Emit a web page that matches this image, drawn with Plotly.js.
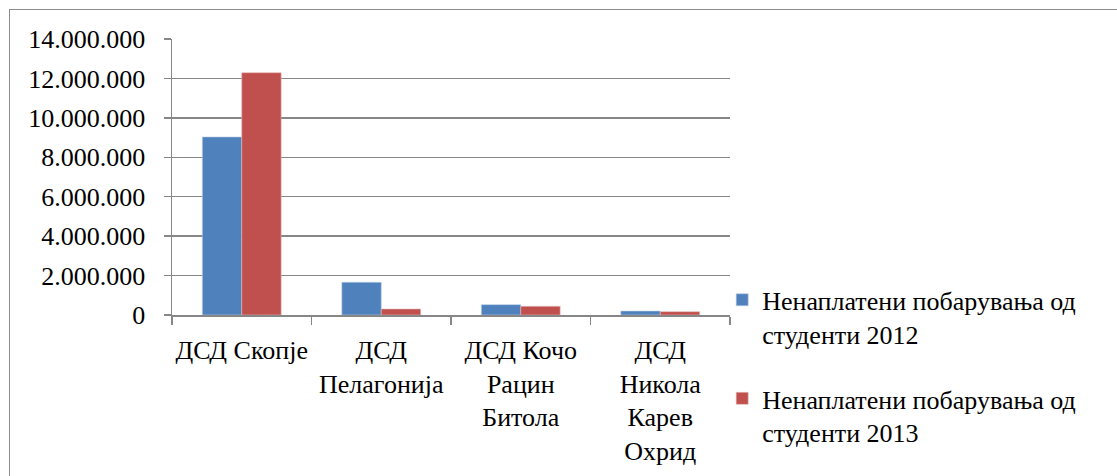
<!DOCTYPE html>
<html>
<head>
<meta charset="utf-8">
<script src="https://cdn.plot.ly/plotly-3.0.1.min.js"></script>
<style>
  html, body { margin: 0; padding: 0; background: #fff; }
  #wrap { position: relative; width: 1117px; height: 476px; overflow: hidden; }
  #chart { position: absolute; left: 0; top: 0; width: 1117px; height: 476px; }
  #frame { position: absolute; left: 9px; top: 9px; width: 1200px; height: 600px;
           border-left: 1.5px solid #8c8c8c; border-top: 1.5px solid #8c8c8c; pointer-events: none; }
</style>
</head>
<body>
<div id="wrap">
  <div id="chart"></div>
  <div id="frame"></div>
</div>
<script>
const categories = [
  "ДСД Скопје",
  "ДСД<br>Пелагонија",
  "ДСД Кочо<br>Рацин<br>Битола",
  "ДСД<br>Никола<br>Карев<br>Охрид"
];
const values2012 = [9030000, 1660000, 525000, 200000];
const values2013 = [12290000, 305000, 440000, 170000];
const seriesNames = [
  "Ненаплатени побарувања од<br>студенти 2012",
  "Ненаплатени побарувања од<br>студенти 2013"
];
const yTicks = [0, 2000000, 4000000, 6000000, 8000000, 10000000, 12000000, 14000000];

const FONT = "Liberation Serif, Times New Roman, serif";
const FS = 26;
const GRID = "#878787";

const traces = [
  { type: "bar", x: categories, y: values2012, name: seriesNames[0], legendgroup: "a",
    marker: { color: "#4F81BD", line: { color: "#b9cde5", width: 0.6 } } },
  { type: "bar", x: categories, y: values2013, name: seriesNames[1], legendgroup: "b",
    marker: { color: "#C0504D", line: { color: "#e6b9b8", width: 0.6 } } }
];

const layout = {
  width: 1117, height: 476,
  margin: { l: 172, r: 387, t: 39, b: 161 },
  paper_bgcolor: "rgba(0,0,0,0)",
  plot_bgcolor: "#fff",
  separators: ",.",
  barmode: "group",
  bargap: 0.435,
  bargroupgap: 0,
  font: { family: FONT, size: FS, color: "#000" },
  showlegend: true,
  legend: {
    x: 0.986, xanchor: "left", y: 0.14, yanchor: "top",
    valign: "top", tracegroupgap: 28,
    font: { family: FONT, size: FS, color: "#000" },
    bgcolor: "rgba(0,0,0,0)"
  },
  xaxis: {
    type: "category",
    showline: true, linecolor: GRID, linewidth: 1.5,
    ticks: "outside", tickson: "boundaries", ticklen: 8, tickcolor: GRID, tickwidth: 1.5,
    showgrid: false, zeroline: false,
    tickangle: 0, automargin: false,
    ticklabelstandoff: 11,
    tickfont: { family: FONT, size: FS, color: "#000" }
  },
  yaxis: {
    range: [0, 14000000],
    tickvals: yTicks, tickformat: ",d",
    showline: true, linecolor: GRID, linewidth: 1.5,
    ticks: "outside", ticklen: 7, tickcolor: GRID, tickwidth: 1.5,
    showgrid: true, gridcolor: GRID, gridwidth: 1.5,
    zeroline: false,
    ticklabelstandoff: 13,
    tickfont: { family: FONT, size: FS, color: "#000" }
  }
};

Plotly.newPlot("chart", traces, layout, { staticPlot: true, displayModeBar: false });
</script>
</body>
</html>
